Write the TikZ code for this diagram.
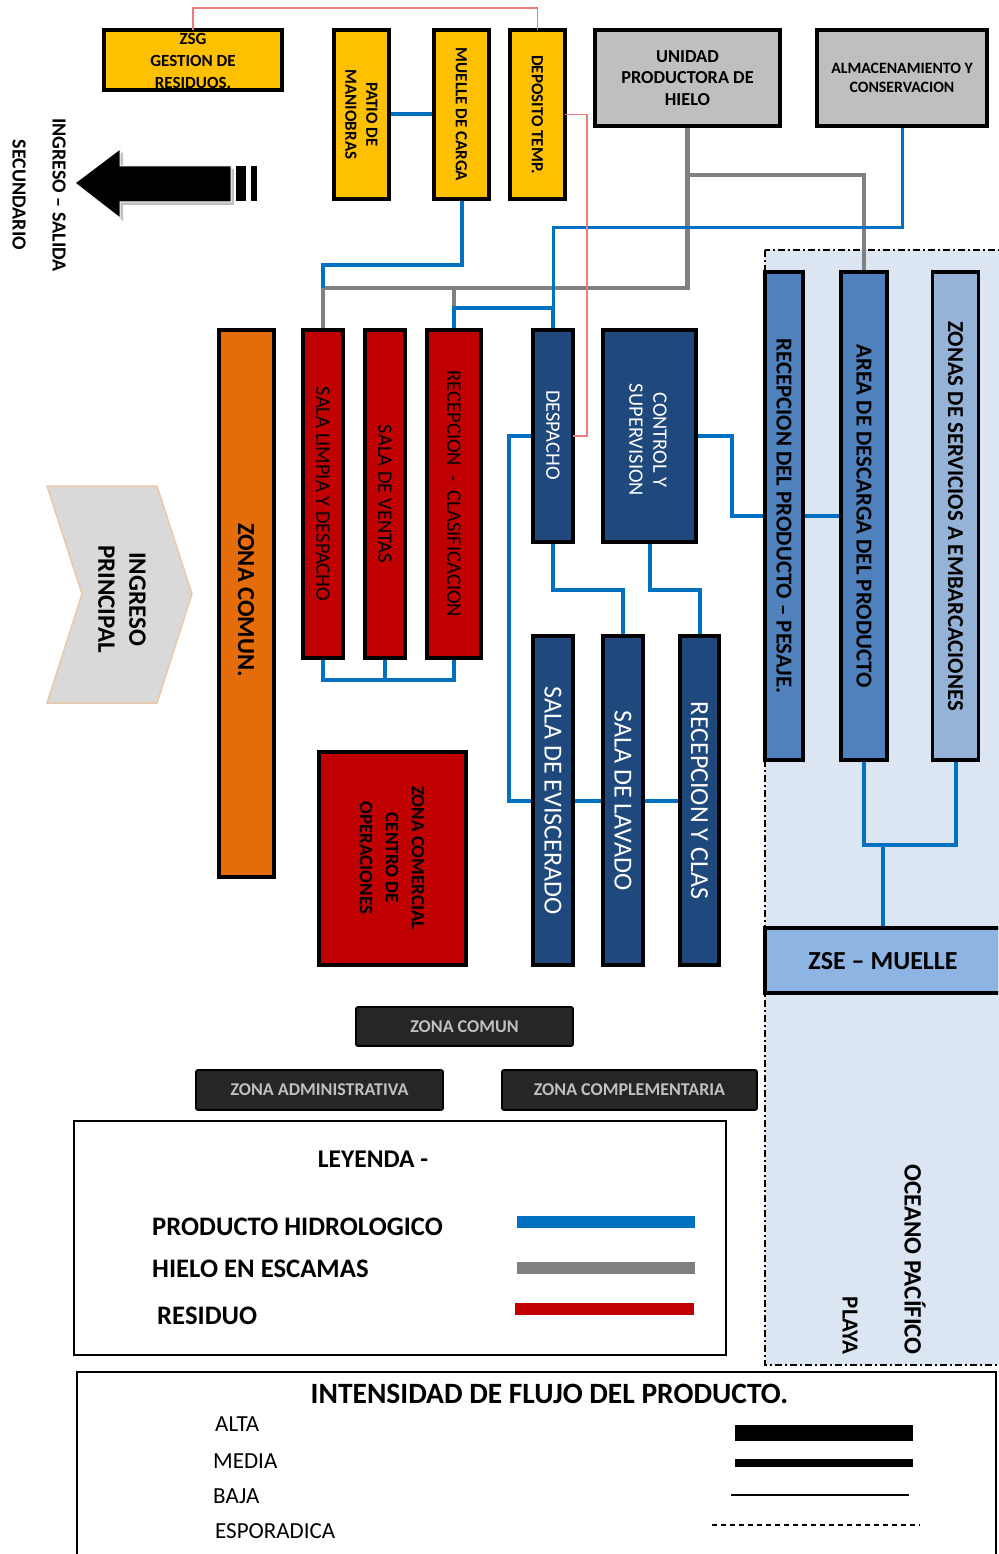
\documentclass[tikz,border=0pt]{standalone}
\usepackage{fontspec}
\setmainfont{Carlito}
\usetikzlibrary{backgrounds}
\pgfdeclarelayer{sea}
\pgfdeclarelayer{flows}
\pgfsetlayers{sea,flows,main}

\definecolor{cYellow}{HTML}{FFC000}
\definecolor{cGray}{HTML}{BFBFBF}
\definecolor{cRed}{HTML}{C00000}
\definecolor{cNavy}{HTML}{1F497D}
\definecolor{cOrange}{HTML}{E46C0A}
\definecolor{cMid}{HTML}{4F81BD}
\definecolor{cLight}{HTML}{95B3D7}
\definecolor{cZse}{HTML}{8DB4E2}
\definecolor{cSea}{HTML}{DCE6F2}
\definecolor{cBlue}{HTML}{0070C0}
\definecolor{cIce}{HTML}{808080}
\definecolor{cWaste}{HTML}{EE7B7B}
\definecolor{cDark}{HTML}{262626}
\definecolor{cSilver}{HTML}{C0C0C0}
\definecolor{cChevron}{HTML}{D9D9D9}
\definecolor{cChevronEdge}{HTML}{E8C9A8}

\newcommand{\setfs}[2]{\fontsize{#1}{#2}\selectfont}

\tikzset{
  area/.style={draw=black, line width=3.2pt, inner sep=0pt, outer sep=0pt},
  ybox/.style={area, fill=cYellow},
  gbox/.style={area, fill=cGray},
  rbox/.style={area, fill=cRed},
  nbox/.style={area, fill=cNavy},
  obox/.style={area, fill=cOrange},
  mbox/.style={area, fill=cMid},
  lbox/.style={area, fill=cLight},
  kbox/.style={draw=black, line width=1.8pt, fill=cDark, rounded corners=2pt,
               inner sep=0pt, text=cSilver, font=\bfseries\setfs{18}{21}},
  vtext/.style={rotate=-90, align=center, inner sep=0pt},
  prod/.style={draw=cBlue, line width=4pt},
  ice/.style={draw=cIce, line width=4.5pt},
  waste/.style={draw=cWaste, line width=1.4pt},
  legtxt/.style={anchor=base west, inner sep=0pt, font=\bfseries\setfs{26.7}{30}},
  flowtxt/.style={anchor=base west, inner sep=0pt, font=\setfs{23}{26}},
}

\begin{document}
\begin{tikzpicture}[x=1pt,y=-1pt]
\useasboundingbox (0,0) rectangle (998,1554);
\clip (0,0) rectangle (998,1554);

% ---------- sea side zone ----------
\begin{pgfonlayer}{sea}
  \draw[fill=cSea, draw=black, line width=1.3pt,
        dash pattern=on 7pt off 3pt on 2pt off 3pt] (765,250) rectangle (1010,1365);
\end{pgfonlayer}

% ---------- top row ----------
\node[ybox, minimum width=178pt, minimum height=60pt] (zsg) at (193,60) {};
\node[align=center, inner sep=0pt, font=\bfseries\setfs{17}{22}] (zsgT) at (193,61) {ZSG\\GESTION DE\\RESIDUOS.};

\node[ybox, minimum width=55pt, minimum height=169pt] (patio) at (361.5,114.5) {};
\node[vtext, font=\bfseries\setfs{17}{21}] (patioT) at (patio) {PATIO DE\\MANIOBRAS};

\node[ybox, minimum width=55pt, minimum height=169pt] (muelle) at (461.5,114.5) {};
\node[vtext, font=\bfseries\setfs{17}{21}] (muelleT) at (muelle) {MUELLE DE CARGA};

\node[ybox, minimum width=55pt, minimum height=169pt] (deposito) at (537.5,114.5) {};
\node[vtext, font=\bfseries\setfs{17}{21}] (depositoT) at (deposito) {DEPOSITO TEMP.};

\node[gbox, minimum width=185pt, minimum height=96pt] (hielo) at (687.5,78) {};
\node[align=center, inner sep=0pt, font=\bfseries\setfs{18.3}{21.5}] (hieloT) at (hielo) {UNIDAD\\PRODUCTORA DE\\HIELO};

\node[gbox, minimum width=170pt, minimum height=96pt] (almac) at (902,78) {};
\node[align=center, inner sep=0pt, font=\bfseries\setfs{15.8}{18.5}] (almacT) at (almac) {ALMACENAMIENTO Y\\CONSERVACION};

% ---------- secondary access arrow ----------
\fill[black!25] (78,186) -- (123,152) -- (123,169) -- (234,169) -- (234,205) -- (123,205) -- (123,221) -- cycle;
\filldraw[fill=black, draw=white, line width=1pt]
  (75,183) -- (120,149) -- (120,166) -- (231,166) -- (231,202) -- (120,202) -- (120,218) -- cycle;
\filldraw[fill=black, draw=white, line width=1pt] (235,166) rectangle (246,202);
\filldraw[fill=black, draw=white, line width=1pt] (250,166) rectangle (257,202);
\node[vtext, font=\bfseries\setfs{20}{40}] (secT) at (39,195) {INGRESO -- SALIDA\\SECUNDARIO};

% ---------- main access chevron ----------
\filldraw[fill=cChevron, draw=cChevronEdge, line width=1.5pt]
  (47,486) -- (157,486) -- (192,594) -- (157,703) -- (47,703) -- (82,594) -- cycle;
\node[vtext, font=\bfseries\setfs{25}{31}] (mainT) at (122,599) {INGRESO\\PRINCIPAL};

% ---------- common zone ----------
\node[obox, minimum width=55pt, minimum height=547pt] (zcomun) at (246.5,603.5) {};
\node[vtext, font=\bfseries\setfs{24.5}{28}] (zcomunT) at (246,600) {ZONA COMUN.};

% ---------- red rooms ----------
\node[rbox, minimum width=40pt, minimum height=328pt] (slimpia) at (323,494) {};
\node[vtext, font=\setfs{20.5}{24}] (slimpiaT) at (slimpia) {SALA LIMPIA Y DESPACHO};
\node[rbox, minimum width=40pt, minimum height=328pt] (sventas) at (385,494) {};
\node[vtext, font=\setfs{20.5}{24}] (sventasT) at (sventas) {SALA DE VENTAS};
\node[rbox, minimum width=54pt, minimum height=328pt] (recclas) at (454,494) {};
\node[vtext, font=\setfs{20.5}{24}] (recclasT) at (recclas) {RECEPCION ~- ~CLASIFICACION};

\node[rbox, minimum width=147pt, minimum height=213pt] (comercial) at (392.5,858.5) {};
\node[vtext, font=\bfseries\setfs{19}{26}] (comercialT) at (392,858) {ZONA COMERCIAL\\CENTRO DE\\OPERACIONES};

% ---------- navy rooms ----------
\node[nbox, minimum width=40pt, minimum height=212pt] (despacho) at (553,436) {};
\node[vtext, text=white, font=\setfs{20.5}{24}] (despachoT) at (553,435) {DESPACHO};
\node[nbox, minimum width=93pt, minimum height=212pt] (control) at (649.5,436) {};
\node[vtext, text=white, font=\setfs{20.5}{24}] (controlT) at (648,440) {CONTROL Y\\SUPERVISION};

\node[nbox, minimum width=40pt, minimum height=329pt] (evisc) at (553,800.5) {};
\node[vtext, text=white, font=\setfs{26}{30}] (eviscT) at (evisc) {SALA DE EVISCERADO};
\node[nbox, minimum width=40pt, minimum height=329pt] (lavado) at (623,800.5) {};
\node[vtext, text=white, font=\setfs{26}{30}] (lavadoT) at (lavado) {SALA DE LAVADO};
\node[nbox, minimum width=39pt, minimum height=329pt] (recyclas) at (699.5,800.5) {};
\node[vtext, text=white, font=\setfs{26}{30}] (recyclasT) at (recyclas) {RECEPCION Y CLAS};

% ---------- sea side columns ----------
\node[mbox, minimum width=38pt, minimum height=488pt] (recprod) at (784,516) {};
\node[vtext, font=\bfseries\setfs{22.8}{26}] (recprodT) at (recprod) {RECEPCION DEL PRODUCTO -- PESAJE.};
\node[mbox, minimum width=46pt, minimum height=488pt] (descarga) at (864,516) {};
\node[vtext, font=\bfseries\setfs{22.8}{26}] (descargaT) at (descarga) {AREA DE DESCARGA DEL PRODUCTO};
\node[lbox, minimum width=46pt, minimum height=488pt] (servicios) at (955.5,516) {};
\node[vtext, font=\bfseries\setfs{22.8}{26}] (serviciosT) at (servicios) {ZONAS DE SERVICIOS A EMBARCACIONES};

\node[area, fill=cZse, minimum width=240pt, minimum height=65pt] (zse) at (885,960.5) {};
\node[inner sep=0pt, font=\bfseries\setfs{26}{30}] (zseT) at (883,961) {ZSE -- MUELLE};

\node[vtext, anchor=east, font=\bfseries\setfs{25}{28}] (oceano) at (915,1355) {OCEANO PACÍFICO};
\node[vtext, anchor=east, font=\bfseries\setfs{23}{28}] (playa) at (850,1355) {PLAYA};

% ---------- zone keys ----------
\node[kbox, minimum width=217pt, minimum height=39pt] (kcomun) at (464.5,1026.5) {ZONA COMUN};
\node[kbox, minimum width=247pt, minimum height=40pt] (kadmin) at (319.5,1090) {ZONA ADMINISTRATIVA};
\node[kbox, minimum width=255pt, minimum height=40pt] (kcomp) at (629.5,1090) {ZONA COMPLEMENTARIA};

% ---------- flows ----------
\begin{pgfonlayer}{flows}
  \coordinate (iceRow) at (0,288);
  % flake ice
  \draw[ice] (hielo.south) -- ++(0,162) -| (slimpia.north);
  \draw[ice] (recclas.north |- iceRow) -- ++(0,20);
  \draw[ice] (hielo.south) -- ++(0,49) -| (descarga.north);
  % hydrobiological product
  \draw[prod] (patio.east) -- (muelle.west);
  \draw[prod] (muelle.south) -- ++(0,66) -| (slimpia.north |- iceRow);
  \draw[prod, line width=3pt] (almac.south) -- ++(0,102) -| (despacho.north);
  \draw[prod] (recclas.north) -- ++(0,-22) -| (despacho.north);
  \draw[prod] (slimpia.south) -- ++(0,22) -| (recclas.south);
  \draw[prod] (sventas.south) -- ++(0,22);
  \draw[prod] (despacho.west) -- ++(-24,0) |- (evisc.west);
  \draw[prod] (evisc.east) -- (lavado.west);
  \draw[prod] (lavado.east) -- (recyclas.west);
  \draw[prod] (despacho.south) -- ++(0,48) -| (lavado.north);
  \draw[prod] (control.south) -- ++(0,48) -| (recyclas.north);
  \draw[prod] (control.east) -- ++(36,0) |- (recprod.west);
  \draw[prod] (recprod.east) -- (descarga.west);
  \draw[prod] (descarga.south) -- ++(0,85) -| (servicios.south);
  \draw[prod] (zse.north -| 883,0) -- ++(0,-83);
\end{pgfonlayer}

% residues
\draw[waste] (zsg.north) -- ++(0,-22) -| (deposito.north);
\draw[waste] (deposito.east) -- ++(22,0) |- (despacho.east);

% ---------- legend ----------
\node[draw=black, line width=2.2pt, minimum width=652pt, minimum height=234pt, inner sep=0pt] (legend) at (400,1238) {};
\node[anchor=base, inner sep=0pt, font=\bfseries\setfs{25.5}{30}] (legT) at (373,1167) {LEYENDA -};
\node[legtxt] (legProd) at (152,1235) {PRODUCTO HIDROLOGICO};
\node[legtxt] (legIce) at (152,1277) {HIELO EN ESCAMAS};
\node[legtxt] (legWaste) at (157,1324) {RESIDUO};
\draw[cBlue, line width=12pt] (517,1222) -- (695,1222);
\draw[cIce, line width=12pt] (517,1268) -- (695,1268);
\draw[cRed, line width=12pt] (515,1309) -- (694,1309);

\node[draw=black, line width=2.2pt, minimum width=919pt, minimum height=200pt, inner sep=0pt] (intens) at (536.5,1472) {};
\node[anchor=base, inner sep=0pt, font=\bfseries\setfs{29.5}{32}] (intT) at (549.5,1403) {INTENSIDAD DE FLUJO DEL PRODUCTO.};
\node[flowtxt] (fAlta) at (215,1431) {ALTA};
\node[flowtxt] (fMedia) at (213,1468) {MEDIA};
\node[flowtxt] (fBaja) at (213,1503) {BAJA};
\node[flowtxt] (fEsp) at (215,1538) {ESPORADICA};
\draw[black, line width=16pt] (735,1433) -- (913,1433);
\draw[black, line width=8pt] (735,1463) -- (913,1463);
\draw[black, line width=1.2pt] (731,1495) -- (909,1495);
\draw[black, line width=1.2pt, dash pattern=on 5pt off 4pt] (712,1525) -- (920,1525);
\end{tikzpicture}
\end{document}
